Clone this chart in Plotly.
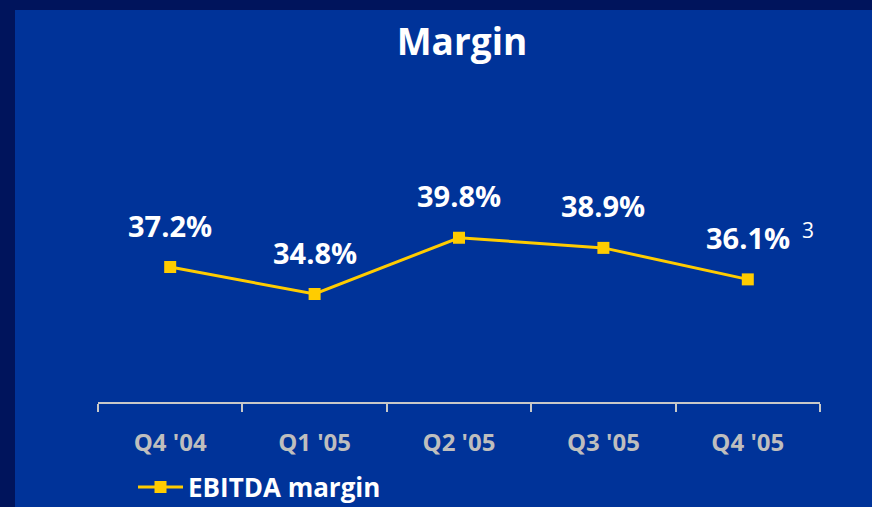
import plotly.graph_objects as go

quarters = ["Q4 '04", "Q1 '05", "Q2 '05", "Q3 '05", "Q4 '05"]
ebitda_margin = [37.2, 34.8, 39.8, 38.9, 36.1]
value_labels = ["37.2%", "34.8%", "39.8%", "38.9%", "36.1%"]
footnote = "3"
series_name = "EBITDA margin"
title_text = "Margin"

W, H = 872, 507
ml, mr, mt, mb = 98, 52, 70, 105
pw, ph = W - ml - mr, H - mt - mb

fig = go.Figure()
fig.add_trace(go.Scatter(
    x=quarters, y=ebitda_margin, mode="lines+markers", name="<b>" + series_name + "</b>",
    line=dict(color="#FFCC00", width=3),
    marker=dict(symbol="square", size=12, color="#FFCC00"),
))

for q, v, t in zip(quarters, ebitda_margin, value_labels):
    fig.add_annotation(x=q, y=v, text="<b>" + t + "</b>", showarrow=False, yshift=42,
                       font=dict(family="Open Sans", size=29, color="white"))
fig.add_annotation(x=quarters[-1], y=ebitda_margin[-1], text=footnote, showarrow=False,
                   xshift=60, yshift=49,
                   font=dict(family="Open Sans", size=21, color="white"))

# blue panel over dark frame
fig.add_shape(type="rect", xref="paper", yref="paper", layer="below",
              x0=(15 - ml) / pw, x1=(W - ml + 20) / pw,
              y0=-(mb + 40) / ph, y1=(ph + mt - 10) / ph,
              fillcolor="#003399", line=dict(width=0))

fig.update_layout(
    width=W, height=H,
    margin=dict(l=ml, r=mr, t=mt, b=mb, autoexpand=False),
    paper_bgcolor="#00145C", plot_bgcolor="rgba(0,0,0,0)",
    title=dict(text="<b>" + title_text + "</b>", x=462 / W, xanchor="center",
               y=1 - 42 / H, yanchor="middle",
               font=dict(family="Open Sans", size=37, color="white")),
    font=dict(family="Open Sans", color="white"),
    showlegend=True,
    legend=dict(orientation="h", x=(133 - ml) / pw, xanchor="left",
                y=-(487 - (H - mb)) / ph, yanchor="middle",
                itemwidth=45,
                bgcolor="rgba(0,0,0,0)",
                font=dict(family="Open Sans", size=26, color="white")),
    xaxis=dict(type="category", range=[-0.5, 4.5], showgrid=False, zeroline=False,
               showline=True, linecolor="#C8C8C8", linewidth=1.5,
               ticks="outside", tickson="boundaries", ticklen=8, tickcolor="#C8C8C8", tickwidth=1.5,
               tickprefix="<b>", ticksuffix="</b>",
               tickfont=dict(family="Open Sans", size=24, color="#BEBEBE"),
               ticklabelstandoff=18),
    yaxis=dict(range=[25.2, 25.2 + ph / 11.25], visible=False, showgrid=False, zeroline=False),
)

fig.write_html("out.html", config={"displayModeBar": False},
               post_script="document.body.style.margin='0';document.body.style.overflow='hidden';")
